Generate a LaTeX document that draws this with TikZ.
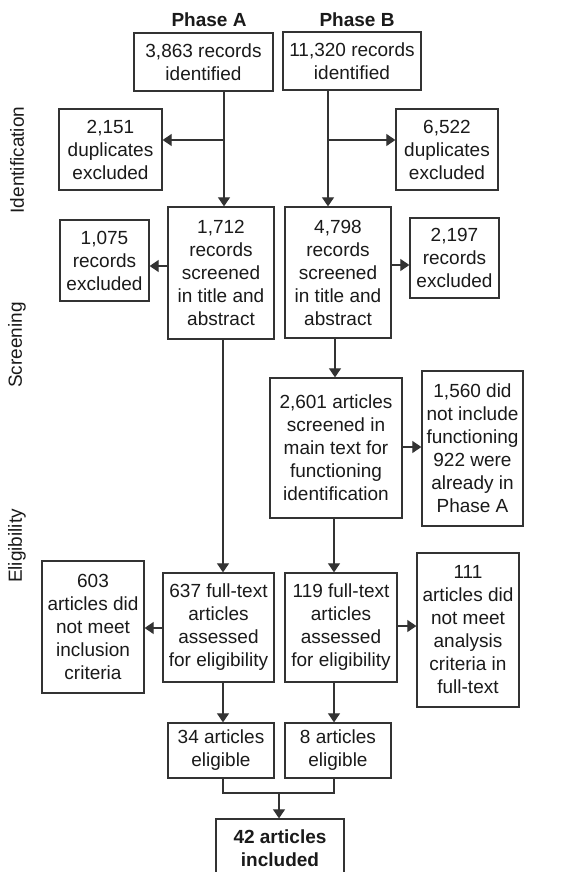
\documentclass[tikz,border=0pt]{standalone}
\usepackage{fontspec}
\setmainfont{Liberation Sans}
\usetikzlibrary{arrows.meta,calc}
\definecolor{ln}{HTML}{333333}
\definecolor{tx}{HTML}{1A1A1A}
\begin{document}
\begin{tikzpicture}[x=1pt,y=-1pt,
  bx/.style={draw=ln,line width=1.3pt,inner sep=0pt,align=center,text=tx,
    font=\fontsize{19}{23}\selectfont},
  arr/.style={draw=ln,line width=1.1pt,-{Triangle[length=9pt,width=12pt]}},
  ln/.style={draw=ln,line width=1.1pt},
  lab/.style={text=tx,font=\fontsize{19}{23}\selectfont,rotate=90,inner sep=0pt},
  ph/.style={text=tx,font=\fontsize{19}{23}\selectfont\bfseries,inner sep=0pt}]
\useasboundingbox[fill=white] (0,0) rectangle (563,872);
% phase labels
\node[ph] (pa) at (209,20) {Phase A};
\node[ph] (pb) at (357,20) {Phase B};
% side labels
\node[lab] (li) at (17,160) {Identification};
\node[lab] (ls) at (17,345) {Screening};
\node[lab] (le) at (17,546) {Eligibility};
% boxes
\node[bx,minimum width=139,minimum height=58] (A1) at (203.5,62) {3,863 records\\identified};
\node[bx,minimum width=138,minimum height=58] (B1) at (352,61) {11,320 records\\identified};
\node[bx,minimum width=103,minimum height=81] (D1) at (110.5,149.5) {2,151\\duplicates\\excluded};
\node[bx,minimum width=102,minimum height=81] (D2) at (447,149.5) {6,522\\duplicates\\excluded};
\node[bx,minimum width=106,minimum height=132] (A2) at (221,273) {1,712\\records\\screened\\in title and\\abstract};
\node[bx,minimum width=106,minimum height=131] (B2) at (338,272.5) {4,798\\records\\screened\\in title and\\abstract};
\node[bx,minimum width=89,minimum height=81] (E1) at (104.5,260.5) {1,075\\records\\excluded};
\node[bx,minimum width=89,minimum height=80] (E2) at (454.5,258) {2,197\\records\\excluded};
\node[bx,minimum width=132,minimum height=140] (B3) at (336,448) {2,601 articles\\screened in\\main text for\\functioning\\identification};
\node[bx,minimum width=101,minimum height=155] (E3) at (472.5,448.5) {1,560 did\\not include\\functioning\\922 were\\already in\\Phase A};
\node[bx,minimum width=102,minimum height=132] (F1) at (93,627) {603\\articles did\\not meet\\inclusion\\criteria};
\node[bx,minimum width=111,minimum height=109] (A4) at (218.5,627.5) {637 full-text\\articles\\assessed\\for eligibility};
\node[bx,minimum width=112,minimum height=109] (B4) at (341,627.5) {119 full-text\\articles\\assessed\\for eligibility};
\node[bx,minimum width=102,minimum height=154] (F2) at (468,630) {111\\articles did\\not meet\\analysis\\criteria in\\full-text};
\node[bx,minimum width=106,minimum height=55] (A5) at (221,750.5) {34 articles\\eligible};
\node[bx,minimum width=106,minimum height=55] (B5) at (338,750.5) {8 articles\\eligible};
\node[bx,minimum width=128,minimum height=58,font=\fontsize{19}{23}\selectfont\bfseries] (FN) at (280,848) {42 articles\\included};
% guide coordinates
\coordinate (xA1) at (224,0);
\coordinate (xB1) at (328,0);
\coordinate (xA) at (223,0);
\coordinate (xB2) at (335,0);
\coordinate (xB) at (334,0);
\coordinate (bA) at (224,140);
\coordinate (bB) at (328,140);
\coordinate (yE1) at (0,266);
\coordinate (yE2) at (0,265);
\coordinate (yE3) at (0,447);
\coordinate (yF1) at (0,628);
\coordinate (yF2) at (0,626);
\coordinate (mA) at (223,793);
\coordinate (mB) at (334,793);
\coordinate (mC) at (279,793);
% connectors
\draw[arr] (A1.south -| xA1) -- (A2.north -| xA1);
\draw[arr] (bA) -- (bA -| D1.east);
\draw[arr] (B1.south -| xB1) -- (B2.north -| xB1);
\draw[arr] (bB) -- (bB -| D2.west);
\draw[arr] (A2.west |- yE1) -- (E1.east |- yE1);
\draw[arr] (B2.east |- yE2) -- (E2.west |- yE2);
\draw[arr] (B2.south -| xB2) -- (B3.north -| xB2);
\draw[arr] (B3.east |- yE3) -- (E3.west |- yE3);
\draw[arr] (A2.south -| xA) -- (A4.north -| xA);
\draw[arr] (B3.south -| xB) -- (B4.north -| xB);
\draw[arr] (A4.west |- yF1) -- (F1.east |- yF1);
\draw[arr] (B4.east |- yF2) -- (F2.west |- yF2);
\draw[arr] (A4.south -| xA) -- (A5.north -| xA);
\draw[arr] (B4.south -| xB) -- (B5.north -| xB);
\draw[ln] (A5.south -| xA) -- (mA) -- (mB) -- (B5.south -| xB);
\draw[arr] (mC) -- (FN.north -| mC);
\end{tikzpicture}
\end{document}
